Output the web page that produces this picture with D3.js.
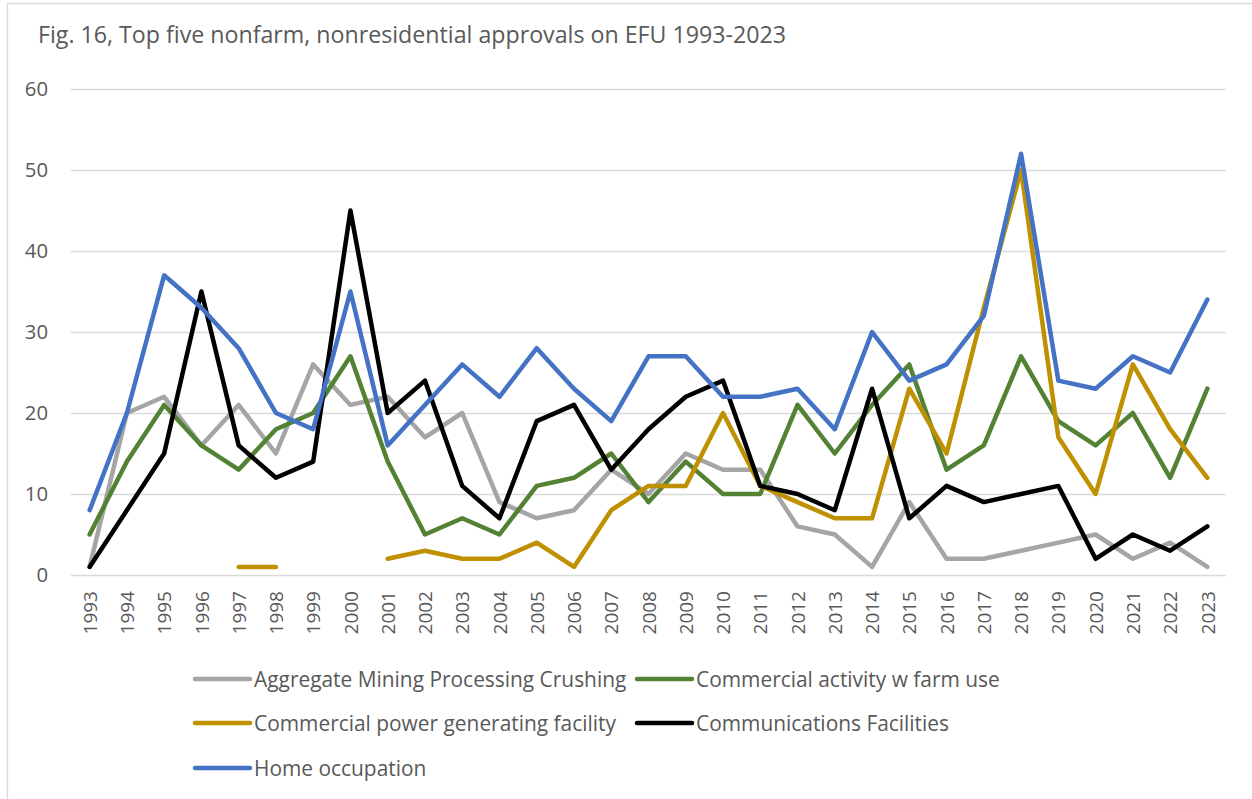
<!DOCTYPE html>
<html lang="en">

<head>
  <meta charset="UTF-8">
  <script src="https://d3js.org/d3.v7.min.js"></script>
  <style>
    html, body {
      margin: 0;
      padding: 0;
      background-color: white;
    }

    svg text {
      font-family: "Open Sans", sans-serif;
      fill: #595959;
    }

    .gridlines .tick line {
      stroke: #d9d9d9;
      stroke-width: 1.3;
    }

    .gridlines .domain {
      display: none;
    }
  </style>
</head>

<body>
  <svg id="chart" width="1252" height="799"></svg>

  <script>
    // data
    const years = d3.range(1993, 2024).map(String);
    const yTicks = [0, 10, 20, 30, 40, 50, 60];
    const seriesNames = [
      "Aggregate Mining Processing Crushing",
      "Commercial activity w farm use",
      "Commercial power generating facility",
      "Communications Facilities",
      "Home occupation"
    ];
    const seriesColors = ["#a5a5a5", "#548235", "#bf9000", "#000000", "#4472c4"];

    const aggregateMining = [1, 20, 22, 16, 21, 15, 26, 21, 22, 17, 20, 9, 7, 8, 13, 10,
      15, 13, 13, 6, 5, 1, 9, 2, 2, 3, 4, 5, 2, 4, 1];
    const commercialFarm = [5, 14, 21, 16, 13, 18, 20, 27, 14, 5, 7, 5, 11, 12, 15, 9,
      14, 10, 10, 21, 15, 21, 26, 13, 16, 27, 19, 16, 20, 12, 23];
    const powerFacility = [null, null, null, null, 1, 1, null, null, 2, 3, 2, 2, 4, 1, 8, 11,
      11, 20, 11, 9, 7, 7, 23, 15, 33, 50, 17, 10, 26, 18, 12];
    const communications = [1, 8, 15, 35, 16, 12, 14, 45, 20, 24, 11, 7, 19, 21, 13, 18,
      22, 24, 11, 10, 8, 23, 7, 11, 9, 10, 11, 2, 5, 3, 6];
    const homeOccupation = [8, 20, 37, 33, 28, 20, 18, 35, 16, 21, 26, 22, 28, 23, 19, 27,
      27, 22, 22, 23, 18, 30, 24, 26, 32, 52, 24, 23, 27, 25, 34];

    const seriesValues = [aggregateMining, commercialFarm, powerFacility, communications, homeOccupation];

    const svg = d3.select("#chart");
    const margin = { top: 89, right: 26, bottom: 224, left: 71 };
    const width = +svg.attr("width");
    const height = +svg.attr("height");

    // outer frame
    svg.append("rect")
      .attr("x", 7.5).attr("y", 3.5)
      .attr("width", 1260).attr("height", 820)
      .attr("fill", "white")
      .attr("stroke", "#d9d9d9")
      .attr("stroke-width", 1.3);

    // title
    svg.append("text")
      .attr("x", 38)
      .attr("y", 43)
      .attr("font-size", 23.2)
      .text("Fig. 16, Top five nonfarm, nonresidential approvals on EFU 1993-2023");

    const x = d3.scalePoint()
      .domain(years)
      .range([margin.left, width - margin.right])
      .padding(0.5);

    const y = d3.scaleLinear()
      .domain([0, 60])
      .range([height - margin.bottom, margin.top]);

    // horizontal gridlines
    svg.append("g")
      .attr("class", "gridlines")
      .attr("transform", `translate(${margin.left}, 0)`)
      .call(d3.axisLeft(y).tickValues(yTicks).tickSize(-(width - margin.left - margin.right)).tickFormat(""));

    // y labels
    const leftAxis = svg.append("g")
      .attr("transform", `translate(${margin.left}, 0)`)
      .call(d3.axisLeft(y).tickValues(yTicks).tickSize(0).tickPadding(23));
    leftAxis.select(".domain").remove();
    leftAxis.selectAll("text")
      .attr("font-size", 20.3)
      .attr("font-family", "'Open Sans', sans-serif")
      .attr("fill", "#595959");

    // x labels, rotated
    const bottomAxis = svg.append("g")
      .attr("transform", `translate(0, ${height - margin.bottom})`)
      .call(d3.axisBottom(x).tickSize(0));
    bottomAxis.select(".domain").remove();
    bottomAxis.selectAll("text")
      .attr("font-size", 19)
      .attr("font-family", "'Open Sans', sans-serif")
      .attr("fill", "#595959")
      .attr("transform", "rotate(-90)")
      .attr("text-anchor", "end")
      .attr("x", -16)
      .attr("y", 0)
      .attr("dy", "0.35em");

    // lines
    const line = d3.line()
      .defined(d => d.v !== null)
      .x(d => x(d.year))
      .y(d => y(d.v));

    seriesValues.forEach((vals, i) => {
      const pts = vals.map((v, j) => ({ year: years[j], v: v }));
      svg.append("path")
        .datum(pts)
        .attr("fill", "none")
        .attr("stroke", seriesColors[i])
        .attr("stroke-width", 4.5)
        .attr("stroke-linejoin", "round")
        .attr("stroke-linecap", "round")
        .attr("d", line);
    });

    // legend
    const legendPos = [[195, 679], [637, 679], [195, 723], [637, 723], [195, 768]];
    const legend = svg.append("g").attr("id", "legend");
    seriesNames.forEach((name, i) => {
      const g = legend.append("g")
        .attr("transform", `translate(${legendPos[i][0]}, ${legendPos[i][1]})`);
      g.append("line")
        .attr("x1", 0).attr("x2", 55)
        .attr("stroke", seriesColors[i])
        .attr("stroke-width", 4.5)
        .attr("stroke-linecap", "round");
      g.append("text")
        .attr("x", 59)
        .attr("dy", "0.36em")
        .attr("font-size", 20.9)
        .text(name);
    });
  </script>
</body>

</html>
